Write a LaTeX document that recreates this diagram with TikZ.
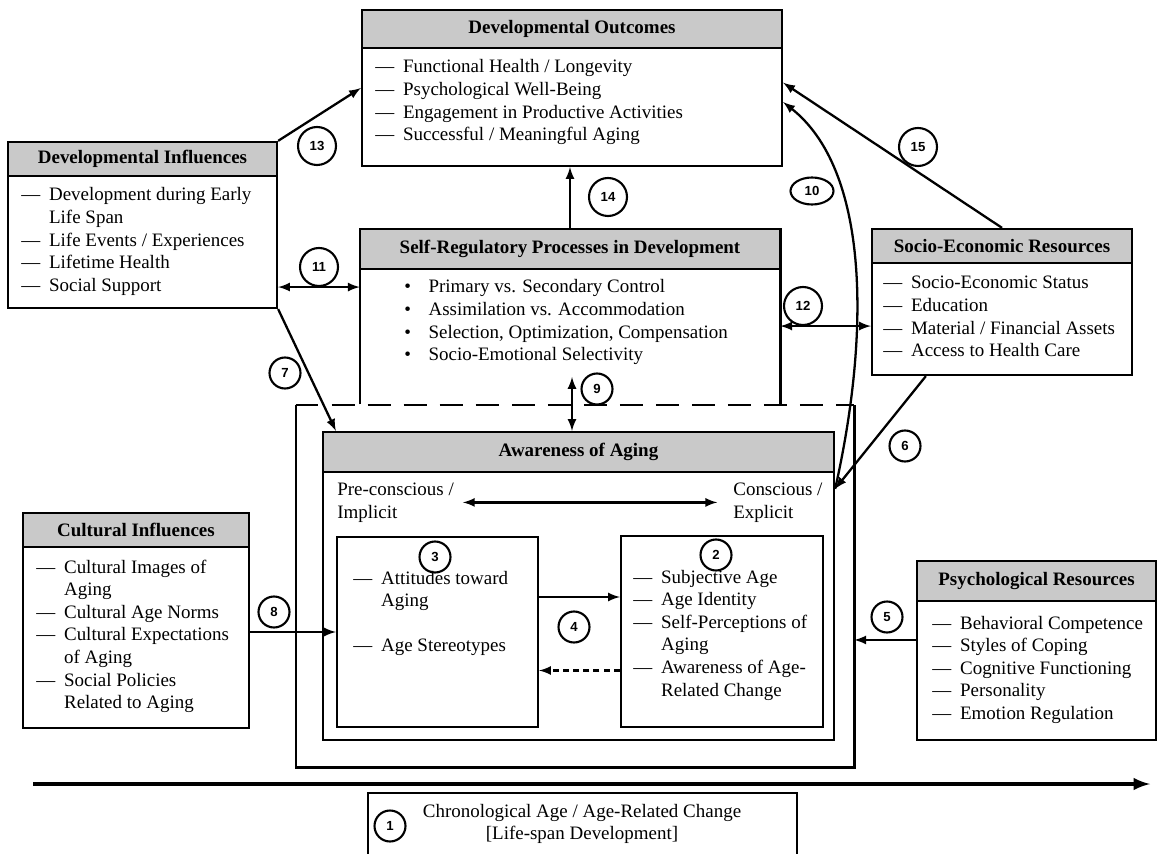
\documentclass[tikz,border=0pt]{standalone}
\usepackage{fontspec}
\setmainfont{Liberation Serif}
\newfontfamily\numfont{Liberation Sans}
\usepackage{tikz}
\usetikzlibrary{shapes, positioning, fit}

\newcommand{\dashlist}[1]{\begin{tabular}[t]{@{}l@{\hspace{5pt}}l@{}}#1\end{tabular}}
\newcommand{\dotlist}[1]{\begin{tabular}[t]{@{}l@{\hspace{10pt}}l@{}}#1\end{tabular}}

\begin{document}
\begin{tikzpicture}[x=0.02cm, y=-0.02cm,
		every node/.style={font=\fontsize{10.8}{12.9}\selectfont},
		box/.style={draw, line width=1.3pt, inner sep=0pt},
		head/.style={draw, fill=gray!42, line width=1.3pt, inner sep=0pt},
		title/.style={font=\fontsize{10.8}{12.9}\selectfont\bfseries},
		list/.style={anchor=base west, inner sep=0pt},
		num/.style={circle, draw, line width=1.2pt, inner sep=0pt, minimum size=0.62cm, font=\numfont\bfseries\fontsize{7.5}{8}\selectfont},
		numw/.style={num, minimum size=0.76cm},
		arr/.style={line width=1.3pt, -latex}]
	\useasboundingbox (0,0) rectangle (1158,854);
	
	% outcomes
	\node[box, fit={(362,10)(782,166)}] (out) {};
	\node[head, fit={(362,10)(782,48)}] (outh) {};
	\node[title] (outt) at (outh.center) {Developmental Outcomes};
	\node[list] (outl) at (375,73) {\dashlist{--- & Functional Health / Longevity\\ --- & Psychological Well-Being\\ --- & Engagement in Productive Activities\\ --- & Successful / Meaningful Aging}};
	
	% developmental influences
	\node[box, fit={(8,142)(277,308)}] (dinf) {};
	\node[head, fit={(8,142)(277,176)}] (dinfh) {};
	\node[title] (dinft) at (dinfh.center) {Developmental Influences};
	\node[list] (dinfl) at (21,201) {\dashlist{--- & Development during Early\\ & Life Span\\ --- & Life Events / Experiences\\ --- & Lifetime Health\\ --- & Social Support}};
	
	% self-regulation
	\node[fit={(360,229)(780,404)}, inner sep=0pt] (sr) {};
	\draw[line width=1.3pt] (sr.south west) -- (sr.north west) -- (sr.north east) -- (sr.south east);
	\node[head, fit={(360,229)(780,269)}] (srh) {};
	\node[title] (srt) at (srh.center) {Self-Regulatory Processes in Development};
	\node[list] (srl) at (404,293) {\dotlist{\textbullet & Primary vs. Secondary Control\\ \textbullet & Assimilation vs. Accommodation\\ \textbullet & Selection, Optimization, Compensation\\ \textbullet & Socio-Emotional Selectivity}};
	
	% socio-economic
	\node[box, fit={(872,229)(1132,375)}] (ses) {};
	\node[head, fit={(872,229)(1132,263)}] (sesh) {};
	\node[title] (sest) at (sesh.center) {Socio-Economic Resources};
	\node[list] (sesl) at (883,289) {\dashlist{--- & Socio-Economic Status\\ --- & Education\\ --- & Material / Financial Assets\\ --- & Access to Health Care}};
	
	% outer frame
	\node[fit={(296,405)(854,767)}, inner sep=0pt] (outer) {};
	\draw[line width=1.3pt] (outer.north west) -- (outer.south west) -- (outer.south east) -- (outer.north east);
	\draw[line width=1.3pt, dash pattern=on 13pt off 7.5pt] (outer.north west) -- (outer.north east);
	
	% awareness of aging
	\node[box, fit={(323,432)(834,740)}] (aw) {};
	\node[head, fit={(323,432)(834,472)}] (awh) {};
	\node[title] (awt) at (awh.center) {Awareness of Aging};
	\node[list, align=left] (pre) at (337,518) {Pre-conscious /\\ Implicit};
	\node[list, align=left] (con) at (733,518) {Conscious /\\ Explicit};
	\draw[arr, latex-latex] ([xshift=5pt]pre.east) -- ([xshift=-9pt]con.west);
	
	\node[box, fit={(337,537)(538,727)}] (b3) {};
	\node[list] (b3l) at (353,584) {\dashlist{--- & Attitudes toward\\ & Aging\\ & \\ --- & Age Stereotypes}};
	\node[box, fit={(621,536)(823,727)}] (b2) {};
	\node[list] (b2l) at (633,583) {\dashlist{--- & Subjective Age\\ --- & Age Identity\\ --- & Self-Perceptions of\\ & Aging\\ --- & Awareness of Age-\\ & Related Change}};
	
	% cultural influences
	\node[box, fit={(23,513)(249,728)}] (cul) {};
	\node[head, fit={(23,513)(249,547)}] (culh) {};
	\node[title] (cult) at (culh.center) {Cultural Influences};
	\node[list] (cull) at (36,573) {\dashlist{--- & Cultural Images of\\ & Aging\\ --- & Cultural Age Norms\\ --- & Cultural Expectations\\ & of Aging\\ --- & Social Policies\\ & Related to Aging}};
	
	% psychological resources
	\node[box, fit={(917,561)(1156,740)}] (psy) {};
	\node[head, fit={(917,561)(1156,601)}] (psyh) {};
	\node[title] (psyt) at (psyh.center) {Psychological Resources};
	\node[list] (psyl) at (932,629) {\dashlist{--- & Behavioral Competence\\ --- & Styles of Coping\\ --- & Cognitive Functioning\\ --- & Personality\\ --- & Emotion Regulation}};
	
	% chronological age
	\coordinate (t0) at (33,784);
	\coordinate (t1) at (1150,784);
	\draw[line width=2.2pt, -latex] (t0) -- (t1);
	\node[box, fit={(368,793)(797,864)}] (age) {};
	\node[align=center] (agel) at (582,824) {Chronological Age / Age-Related Change\\ {[}Life-span Development{]}};
	
	% numbers
	\node[num] (n1) at (390,826) {1};
	\node[num] (n2) at (716,555) {2};
	\node[num] (n3) at (435,557) {3};
	\node[num] (n4) at (574,627) {4};
	\node[num] (n5) at (887,617) {5};
	\node[num] (n6) at (905,446) {6};
	\node[num] (n7) at (285,373) {7};
	\node[num] (n8) at (274,612) {8};
	\node[num] (n9) at (597,389) {9};
	\node[ellipse, draw, line width=1.2pt, inner sep=0pt, minimum width=0.86cm, minimum height=0.54cm, font=\numfont\bfseries\fontsize{7.5}{8}\selectfont] (n10) at (812,191) {10};
	\node[numw] (n11) at (319,267) {11};
	\node[numw] (n12) at (803,306) {12};
	\node[numw] (n13) at (317,146) {13};
	\node[numw] (n14) at (608,197) {14};
	\node[numw] (n15) at (918,147) {15};
	
	% connectors
	\coordinate (awr) at ([yshift=-1.16cm]aw.north east);
	\coordinate (c9) at (572,377);
	\draw[arr] (dinf.north east) -- (out.west);
	\draw[arr] (sr.north) -- (sr.north |- out.south);
	\draw[arr, latex-latex] (dinf.east |- n11.south) -- (sr.west |- n11.south);
	\draw[arr, latex-latex] (sr.east |- n12.south) -- (ses.west |- n12.south);
	\draw[arr] (ses.north) -- ([yshift=3pt]out.east);
	\draw[arr] (awr) .. controls +(36,-160) and +(85,67) .. ([yshift=-8pt]out.east);
	\draw[arr] ([xshift=1.1cm]ses.south west) -- (awr);
	\draw[arr] ([yshift=6pt]psy.west) -- ([yshift=6pt]psy.west -| outer.east);
	\draw[arr] (dinf.south east) -- ([xshift=0.28cm]aw.north west);
	\draw[arr] (cul.east |- b3.west) -- (b3.west);
	\draw[arr, latex-latex] (c9) -- (c9 |- aw.north);
	\draw[arr] ([yshift=0.7cm]b3.east) -- ([yshift=0.7cm]b3.east -| b2.west);
	\draw[arr, dash pattern=on 3.5pt off 2.3pt] ([yshift=-0.78cm]b2.west) -- ([yshift=-0.78cm]b2.west -| b3.east);
\end{tikzpicture}
\end{document}
